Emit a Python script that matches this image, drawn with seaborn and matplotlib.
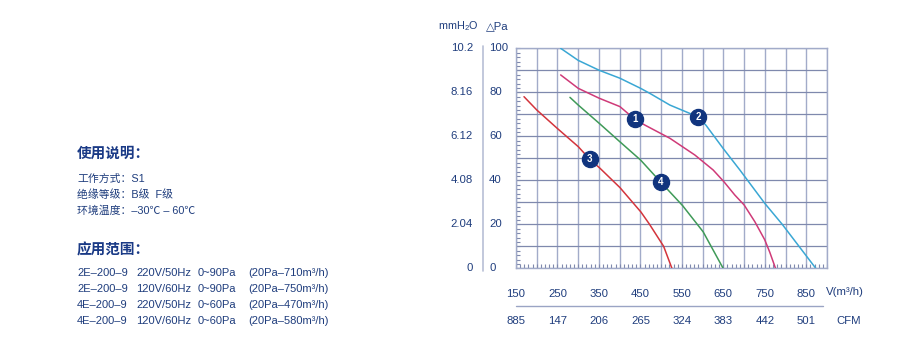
import numpy as np
import pandas as pd
import matplotlib
matplotlib.use("Agg")
import matplotlib.pyplot as plt
import seaborn as sns
from matplotlib.ticker import MultipleLocator

# ---- data: fan performance curves (airflow m3/h, static pressure Pa) ----
c1_flow = [257.7, 300.1, 350.7, 400.6, 436.7, 460.8, 521.1, 581.3, 625.4, 651.2,
           677.7, 700.1, 725.9, 750.0, 762.0, 775.8]
c1_pa   = [87.9, 81.8, 77.3, 73.5, 67.7, 65.1, 59.1, 51.5, 44.7, 39.4,
           33.3, 28.8, 21.2, 12.9, 7.3, 0.0]

c2_flow = [257.7, 300.1, 350.7, 400.6, 450.5, 472.9, 521.1, 569.3, 589.3, 607.8,
           649.5, 689.8, 750.0, 792.0, 872.9]
c2_pa   = [100.0, 94.5, 90.0, 86.4, 81.8, 79.5, 74.2, 70.4, 68.6, 65.1,
           54.5, 44.7, 29.5, 20.0, 0.0]

c3_flow = [169.3, 199.9, 249.5, 300.1, 328.3, 352.4, 400.6, 451.2, 472.0, 506.0, 526.0]
c3_pa   = [78.0, 72.0, 63.6, 55.3, 49.5, 45.5, 36.7, 25.6, 20.0, 10.0, 0.0]

c4_flow = [280.1, 300.1, 350.7, 400.6, 450.5, 499.4, 551.7, 601.3, 625.4, 649.5]
c4_pa   = [77.7, 74.2, 65.9, 57.5, 49.2, 39.1, 28.5, 16.6, 8.3, 0.0]

curve_ids = ["1", "2", "3", "4"]
curve_colors = ["#cf3a78", "#3aa7d4", "#d3343c", "#3f9a58"]

marker_flow = [436.7, 589.3, 328.3, 499.4]
marker_pa   = [67.7, 68.6, 49.5, 39.1]

pa_ticks = [0, 20, 40, 60, 80, 100]
mm_labels = ["0", "2.04", "4.08", "6.12", "8.16", "10.2"]
flow_ticks = [150, 250, 350, 450, 550, 650, 750, 850]
cfm_labels = ["885", "147", "206", "265", "324", "383", "442", "501"]

info_title = "使用说明："
info_lines = ["工作方式：S1", "绝缘等级：B级  F级", "环境温度：–30℃ – 60℃"]
range_title = "应用范围："
spec_model = ["2E–200–9", "2E–200–9", "4E–200–9", "4E–200–9"]
spec_power = ["220V/50Hz", "120V/60Hz", "220V/50Hz", "120V/60Hz"]
spec_press = ["0~90Pa", "0~90Pa", "0~60Pa", "0~60Pa"]
spec_point = ["(20Pa–710m³/h)", "(20Pa–750m³/h)", "(20Pa–470m³/h)", "(20Pa–580m³/h)"]

# ---- styling ----
sns.set_theme(style="white")
plt.rcParams["font.family"] = ["Liberation Sans", "DejaVu Sans"]
plt.rcParams["mathtext.fontset"] = "custom"
plt.rcParams["mathtext.rm"] = "Liberation Sans"
plt.rcParams["mathtext.default"] = "rm"

NAVY = "#1f3d7d"
GRID_H = "#7f89ad"
GRID_V = "#a2abc9"
CJK = ["Noto Sans CJK SC", "DejaVu Sans"]
MIXED = ["Liberation Sans", "Noto Sans CJK SC"]
LBL = 8.2

W, H = 900, 341
fig = plt.figure(figsize=(W / 100, H / 100), dpi=100)
fig.patch.set_facecolor("white")

def fx(px):
    return px / W

def fy(py):
    return 1 - py / H

ax_l, ax_r, ax_t, ax_b = 516, 827, 48.3, 268.3
ax = fig.add_axes([fx(ax_l), fy(ax_b), fx(ax_r - ax_l), (ax_b - ax_t) / H])

rows = []
for cid, fl, pa in zip(curve_ids, [c1_flow, c2_flow, c3_flow, c4_flow],
                       [c1_pa, c2_pa, c3_pa, c4_pa]):
    for f, p in zip(fl, pa):
        rows.append({"curve": cid, "flow": f, "pa": p})
df = pd.DataFrame(rows)

sns.lineplot(data=df, x="flow", y="pa", hue="curve", units="curve", estimator=None,
             sort=False, palette=dict(zip(curve_ids, curve_colors)),
             linewidth=1.1, legend=False, ax=ax, zorder=3)
for ln in ax.get_lines():
    ln.set_solid_joinstyle("round")

ax.set_xlim(150, 900)
ax.set_ylim(0, 100)
ax.xaxis.set_major_locator(MultipleLocator(50))
ax.yaxis.set_major_locator(MultipleLocator(10))
ax.xaxis.set_minor_locator(MultipleLocator(10))
ax.yaxis.set_minor_locator(MultipleLocator(2))
ax.xaxis.grid(True, which="major", color=GRID_V, linewidth=1.0)
ax.yaxis.grid(True, which="major", color=GRID_H, linewidth=0.9)
ax.set_xticklabels([])
ax.set_yticklabels([])
ax.tick_params(which="both", direction="in", colors=GRID_H, bottom=True, left=True,
               top=False, right=False)
ax.tick_params(which="major", length=3, width=0.8)
ax.tick_params(which="minor", length=3, width=0.8)
for s in ax.spines.values():
    s.set_color(GRID_V)
    s.set_linewidth(1.0)

# numbered curve markers
mk = pd.DataFrame({"flow": marker_flow, "pa": marker_pa, "id": curve_ids})
sns.scatterplot(data=mk, x="flow", y="pa", s=135, color="#10347e", edgecolor="#10347e",
                legend=False, ax=ax, zorder=5)
for f, p, t in zip(marker_flow, marker_pa, curve_ids):
    ax.text(f, p, t, color="white", fontsize=7, fontweight="bold",
            ha="center", va="center", zorder=6)
ax.set_xlabel("")
ax.set_ylabel("")

# left scales: mmH2O and Pa
ytr = ax.get_yaxis_transform()
ax_w = ax_r - ax_l
def axfrac_x(px):
    return (px - ax_l) / ax_w
for p, mm in zip(pa_ticks, mm_labels):
    ax.text(axfrac_x(489), p, str(p), transform=ytr, ha="left", va="center",
            fontsize=LBL, color=NAVY, clip_on=False)
    ax.text(axfrac_x(473), p, mm, transform=ytr, ha="right", va="center",
            fontsize=LBL, color=NAVY, clip_on=False)
ax.plot([axfrac_x(483.3)] * 2, [101, -1], transform=ytr, color="#b7bfd6",
        linewidth=1.2, clip_on=False)
fig.text(fx(438), fy(26), "mmH$_2$O", fontsize=7.8, color=NAVY, ha="left", va="center")
fig.text(fx(486), fy(26), "△Pa", fontsize=8.2, color=NAVY, ha="left", va="center")

# bottom scales: m3/h and CFM
xtr = ax.get_xaxis_transform()
ax_h = ax_b - ax_t
def axfrac_y(py):
    return (ax_b - py) / ax_h
for f, c in zip(flow_ticks, cfm_labels):
    ax.text(f, axfrac_y(294), str(f), transform=xtr, ha="center", va="center",
            fontsize=LBL, color=NAVY, clip_on=False)
    ax.text(f, axfrac_y(321), c, transform=xtr, ha="center", va="center",
            fontsize=LBL, color=NAVY, clip_on=False)
ax.plot([150, 890], [axfrac_y(306)] * 2, transform=xtr, color="#9aa4c4",
        linewidth=1.0, clip_on=False)
fig.text(fx(826), fy(292), "V(m³/h)", fontsize=LBL, color=NAVY, ha="left", va="center")
fig.text(fx(836), fy(321), "CFM", fontsize=LBL, color=NAVY, ha="left", va="center")

# description block
TX = fx(77)
fig.text(TX, fy(153), info_title, family=CJK, fontsize=10.5, fontweight="bold",
         color="#1a3a86", ha="left", va="center")
for py, line in zip([179, 195, 211], info_lines):
    fig.text(TX, fy(py), line, family=MIXED, fontsize=7.8, color=NAVY,
             ha="left", va="center")
fig.text(TX, fy(249), range_title, family=CJK, fontsize=10.5, fontweight="bold",
         color="#1a3a86", ha="left", va="center")
for py, a, b, c, d in zip([273, 289, 305, 321], spec_model, spec_power, spec_press, spec_point):
    for px, s in zip([77, 136, 198, 248], [a, b, c, d]):
        fig.text(fx(px), fy(py), s, fontsize=8, color=NAVY, ha="left", va="center")

fig.savefig("out.png", dpi=100, facecolor="white")
